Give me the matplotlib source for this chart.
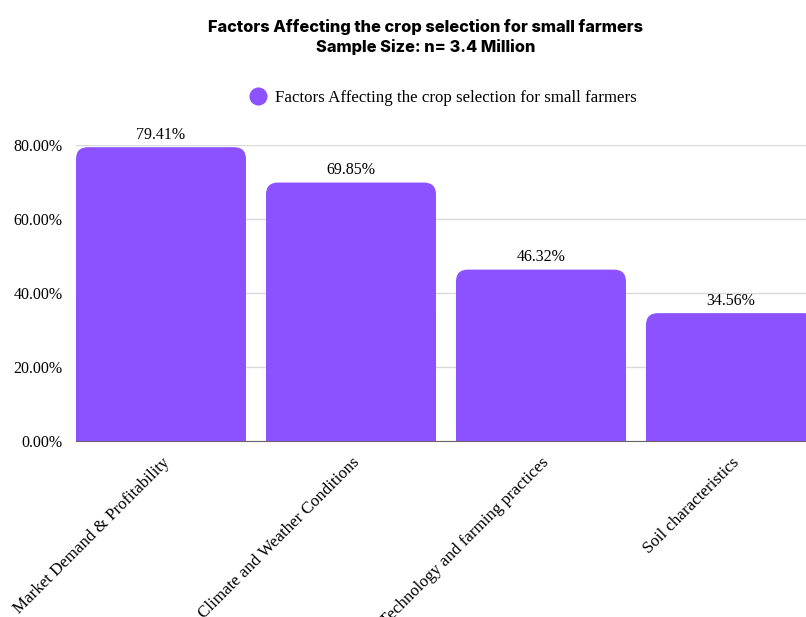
import matplotlib
matplotlib.use("Agg")
import matplotlib.pyplot as plt
import matplotlib.transforms as mtransforms
from matplotlib.patches import FancyBboxPatch, Rectangle
from matplotlib.lines import Line2D

# data
categories = ["Market Demand & Profitability", "Climate and Weather Conditions",
              "Technology and farming practices", "Soil characteristics"]
values = [79.41, 69.85, 46.32, 34.56]
series_name = "Factors Affecting the crop selection for small farmers"
title = "Factors Affecting the crop selection for small farmers\nSample Size: n= 3.4 Million"
yticks = [0, 20, 40, 60, 80]

purple = "#8C52FF"
serif = "Liberation Serif"

fig = plt.figure(figsize=(8.06, 6.17), dpi=100)
ax = fig.add_axes([76 / 806, 176 / 617, 730 / 806, 296 / 617])

bars = ax.bar(range(len(values)), values, width=170 / 190, color=purple)

# swap the plain bars for ones with rounded tops
rx = 12 / 190            # radius in x data units
aspect = 190 / 3.7       # y units per x unit (pixels)
for b in bars:
    x, y = b.get_xy()
    w, h = b.get_width(), b.get_height()
    b.remove()
    ax.add_patch(FancyBboxPatch((x, y), w, h,
                                boxstyle=f"round,pad=0,rounding_size={rx}",
                                mutation_aspect=aspect, fc=purple, ec="none",
                                zorder=2))
    ax.add_patch(Rectangle((x, y), w, h / 2, fc=purple, ec="none", zorder=2))
    ax.annotate(f"{h:.2f}%", (x + w / 2, h), xytext=(0, 3),
                textcoords="offset points", ha="center", va="bottom",
                fontsize=11.5, family=serif, annotation_clip=False)

ax.set_xlim(-0.4474, 3.395)
ax.set_ylim(0, 80)
ax.set_yticks(yticks)
ax.set_yticklabels([f"{t:.2f}%" for t in yticks], family=serif, fontsize=11.5)
ax.set_xticks(range(len(categories)))
ax.set_xticklabels([])
ax.tick_params(length=0)
ax.tick_params(axis="y", pad=9.5)

# rotated category labels, drawn as texts so they can be nudged
shift = mtransforms.ScaledTranslation(6 / 100, -19 / 100, fig.dpi_scale_trans)
for i, cat in enumerate(categories):
    ax.text(i, 0, cat, transform=ax.get_xaxis_transform() + shift,
            family=serif, fontsize=12.2, rotation=45, ha="right", va="center",
            rotation_mode="anchor", clip_on=False)

for s in ["top", "right", "left"]:
    ax.spines[s].set_visible(False)
ax.spines["bottom"].set_color("#666666")
ax.spines["bottom"].set_zorder(1)
ax.grid(axis="y", color="#d9d9d9", lw=1, zorder=0)
ax.set_axisbelow(True)

fig.text(0.528, 1 - 37 / 617, title, ha="center", va="center",
         fontsize=11.8, fontweight="heavy", family="Inter", linespacing=1.25)

handle = Line2D([], [], marker="o", ls="none", color=purple, markersize=12)
fig.legend([handle], [series_name], loc="center", bbox_to_anchor=(0.545, 1 - 98 / 617),
           frameon=False, prop={"family": serif, "size": 12.2},
           handletextpad=0.0, borderaxespad=0)

fig.savefig("out.png", dpi=100)
